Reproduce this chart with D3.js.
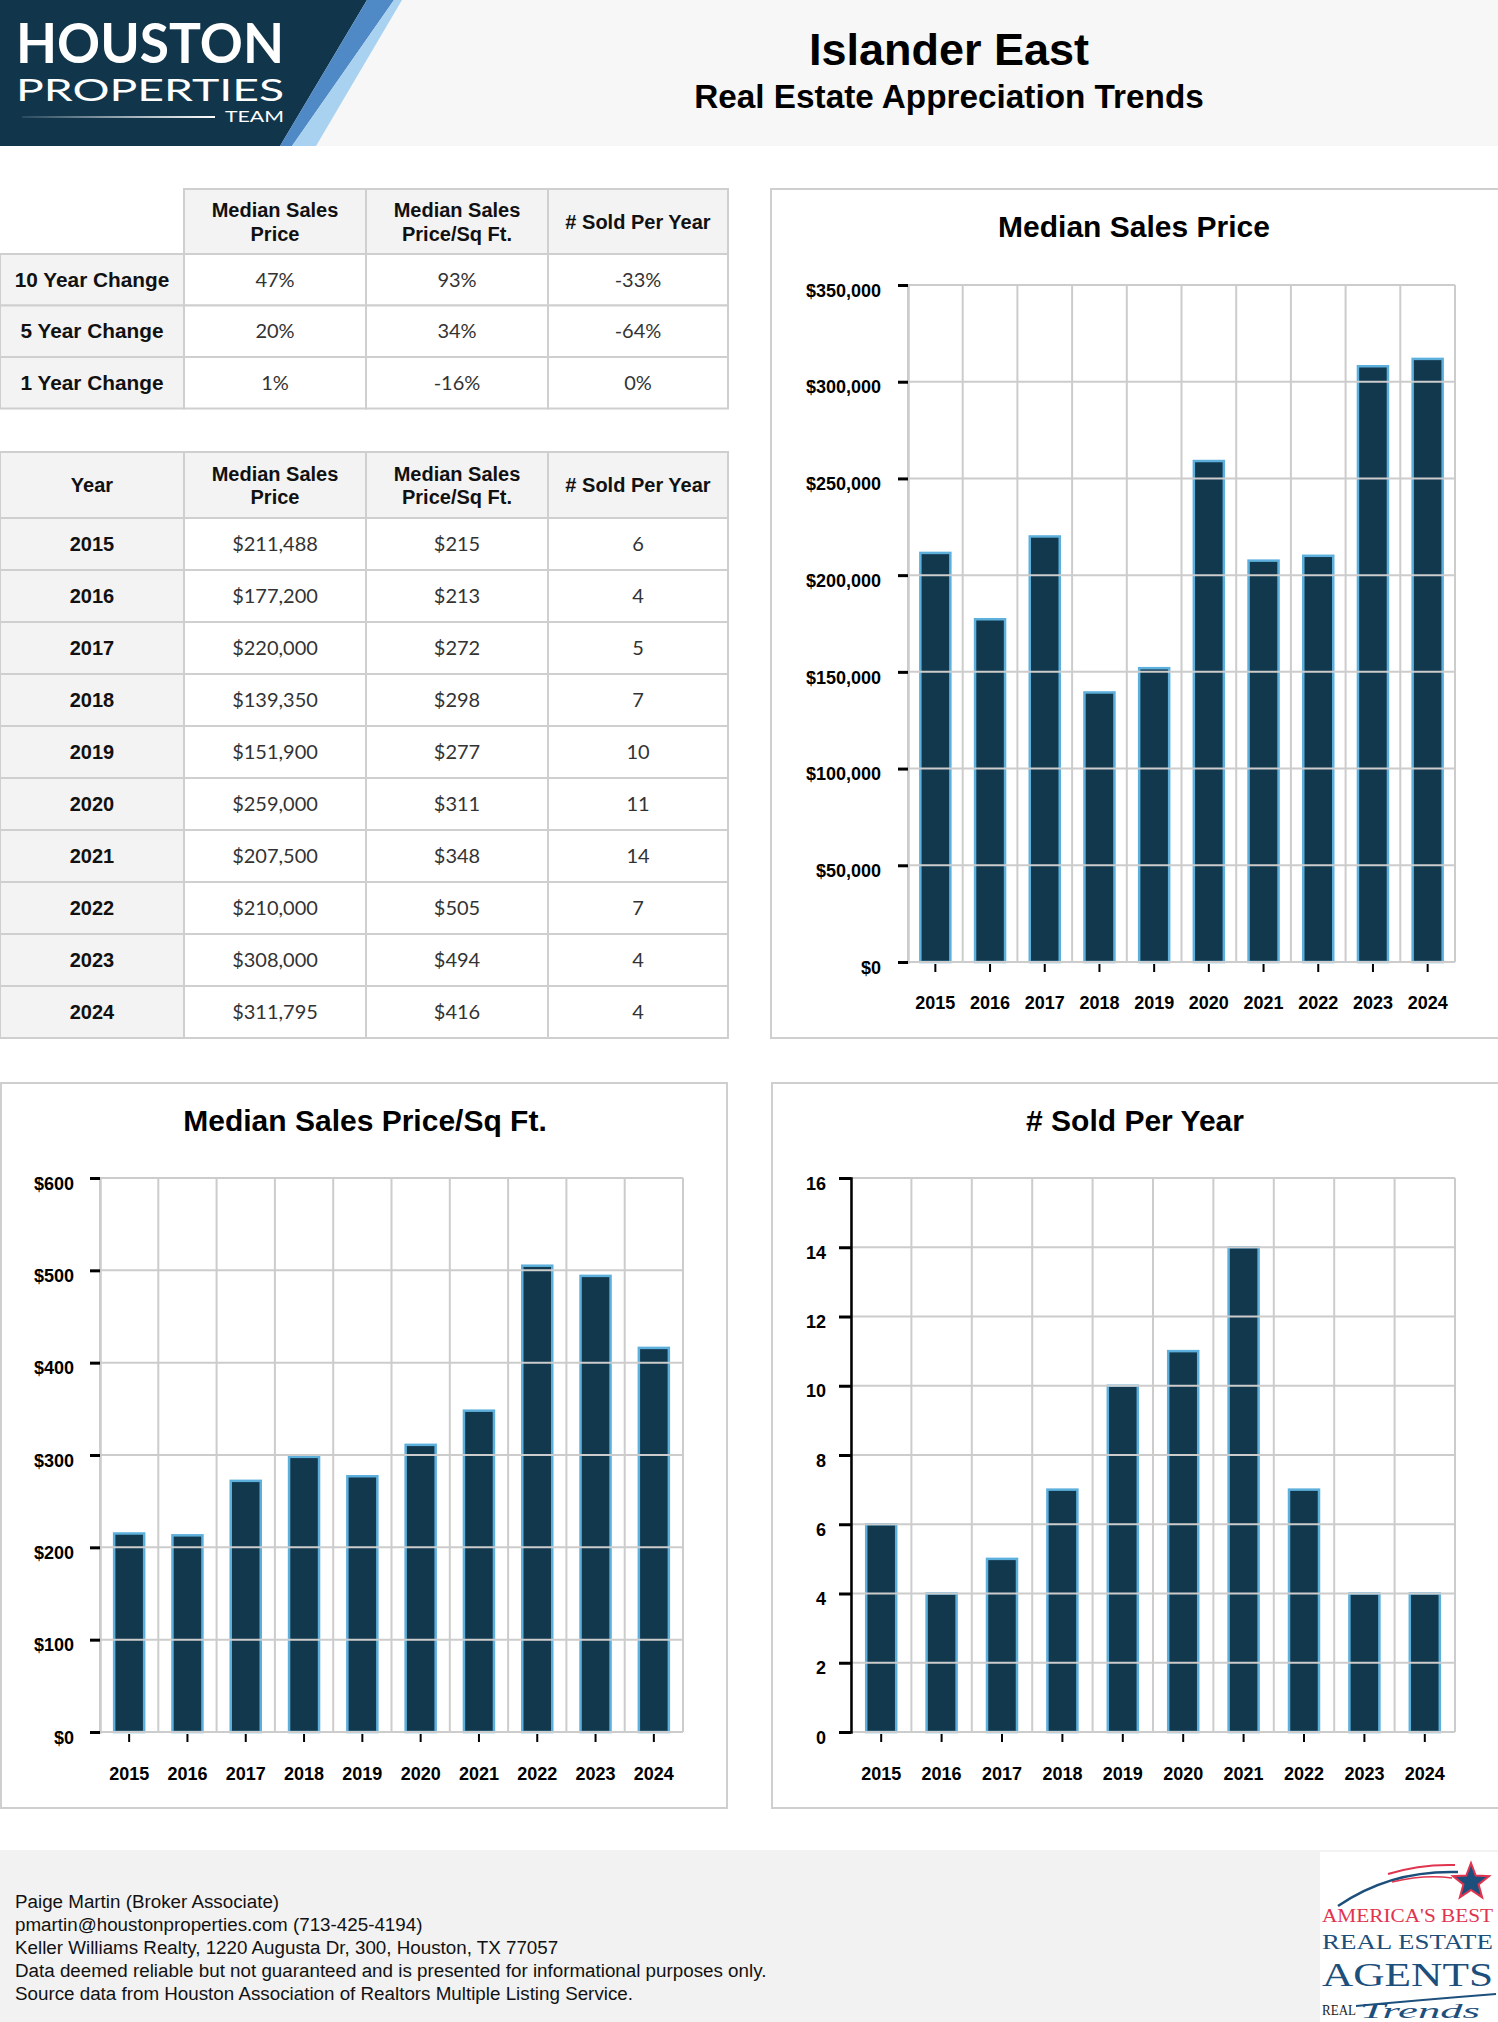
<!DOCTYPE html>
<html><head><meta charset="utf-8">
<script src="https://cdn.jsdelivr.net/npm/d3@7"></script>
<style>body{margin:0;background:#fff;} svg{display:block;}</style>
</head><body><div id="c"></div>
<script>
// ---------- DATA ----------
const years = [2015, 2016, 2017, 2018, 2019, 2020, 2021, 2022, 2023, 2024];
const medianPrice = [211488, 177200, 220000, 139350, 151900, 259000, 207500, 210000, 308000, 311795];
const pricePerSqft = [215, 213, 272, 298, 277, 311, 348, 505, 494, 416];
const soldPerYear = [6, 4, 5, 7, 10, 11, 14, 7, 4, 4];

const changeLabels = ["10 Year Change", "5 Year Change", "1 Year Change"];
const changePrice = ["47%", "20%", "1%"];
const changePpsf = ["93%", "34%", "-16%"];
const changeSold = ["-33%", "-64%", "0%"];

const metricHeaders = [["Median Sales", "Price"], ["Median Sales", "Price/Sq Ft."], ["# Sold Per Year"]];

const priceTicks = [0, 50000, 100000, 150000, 200000, 250000, 300000, 350000];
const ppsfTicks = [0, 100, 200, 300, 400, 500, 600];
const soldTicks = [0, 2, 4, 6, 8, 10, 12, 14, 16];

const pageTitle = "Islander East";
const pageSubtitle = "Real Estate Appreciation Trends";
const footerLines = [
  "Paige Martin (Broker Associate)",
  "pmartin@houstonproperties.com (713-425-4194)",
  "Keller Williams Realty, 1220 Augusta Dr, 300, Houston, TX 77057",
  "Data deemed reliable but not guaranteed and is presented for informational purposes only.",
  "Source data from Houston Association of Realtors Multiple Listing Service."
];

// ---------- SETUP ----------
const W = 1498, H = 2022;
const SANS = "'Liberation Sans', Arial, Helvetica, sans-serif";
const svg = d3.select("#c").append("svg").attr("width", W).attr("height", H);
svg.append("rect").attr("width", W).attr("height", H).attr("fill", "#fff");

// ---------- HEADER ----------
svg.append("rect").attr("x", 0).attr("y", 0).attr("width", W).attr("height", 146).attr("fill", "#f7f7f7");
const logo = svg.append("g");
logo.append("polygon").attr("points", "0,0 367,0 280,146 0,146").attr("fill", "#11364c");
logo.append("polygon").attr("points", "367,0 394,0 292,146 280,146").attr("fill", "#4f89c6");
logo.append("polygon").attr("points", "394,0 402,0 316,146 292,146").attr("fill", "#a9d2f1");
const defs = svg.append("defs");
const lg = defs.append("linearGradient").attr("id", "lineFade").attr("x1", "0").attr("x2", "1");
lg.append("stop").attr("offset", "0").attr("stop-color", "#fff").attr("stop-opacity", 0.1);
lg.append("stop").attr("offset", "1").attr("stop-color", "#fff").attr("stop-opacity", 1);
logo.append("text").text("HOUSTON").attr("x", 16).attr("y", 63)
  .attr("font-family", "Lato, 'Open Sans', sans-serif").attr("font-weight", 700)
  .attr("font-size", 56).attr("fill", "#fff").attr("textLength", 268).attr("lengthAdjust", "spacingAndGlyphs");
logo.append("text").text("PROPERTIES").attr("x", 16).attr("y", 101)
  .attr("font-family", "Lato, 'Open Sans', sans-serif").attr("font-weight", 400)
  .attr("font-size", 30).attr("fill", "#fff").attr("textLength", 268).attr("lengthAdjust", "spacingAndGlyphs");
logo.append("text").text("TEAM").attr("x", 225).attr("y", 122)
  .attr("font-family", "Lato, 'Open Sans', sans-serif").attr("font-weight", 400)
  .attr("font-size", 15).attr("fill", "#fff").attr("textLength", 59).attr("lengthAdjust", "spacingAndGlyphs");
logo.append("rect").attr("x", 22).attr("y", 116).attr("width", 193).attr("height", 2).attr("fill", "url(#lineFade)");

svg.append("text").text(pageTitle).attr("x", 949).attr("y", 65).attr("text-anchor", "middle")
  .attr("font-family", SANS).attr("font-weight", 700).attr("font-size", 45).attr("fill", "#000");
svg.append("text").text(pageSubtitle).attr("x", 949).attr("y", 108).attr("text-anchor", "middle")
  .attr("font-family", SANS).attr("font-weight", 700).attr("font-size", 33.3).attr("fill", "#000");

// ---------- TABLES ----------
const GRAY = "#f3f3f3", BORDER = "#cfcfcf";
const colX = [0, 184, 366, 548, 728];

function cell(g, x0, x1, y0, y1, fill) {
  g.append("rect").attr("x", x0).attr("y", y0).attr("width", x1 - x0).attr("height", y1 - y0)
    .attr("fill", fill).attr("stroke", BORDER).attr("stroke-width", 2);
}
function cellText(g, x0, x1, y0, y1, lines, bold, size) {
  const cx = (x0 + x1) / 2, mid = (y0 + y1) / 2;
  const t = g.append("text").attr("text-anchor", "middle")
    .attr("font-family", bold ? SANS : "Lato, 'Liberation Sans', sans-serif")
    .attr("font-weight", bold ? 700 : 400).attr("font-size", size || 20)
    .attr("fill", bold ? "#111" : "#333");
  if (lines.length === 1) {
    t.append("tspan").attr("x", cx).attr("y", mid + 7).text(lines[0]);
  } else {
    t.append("tspan").attr("x", cx).attr("y", mid - 4.5).text(lines[0]);
    t.append("tspan").attr("x", cx).attr("y", mid + 19).text(lines[1]);
  }
}

// Table 1: change summary
const t1 = svg.append("g");
const rows1 = [189, 254].concat(changeLabels.map((d, i) => 254 + 51.5 * (i + 1)));
metricHeaders.forEach((h, j) => {
  cell(t1, colX[j + 1], colX[j + 2], rows1[0], rows1[1], GRAY);
  cellText(t1, colX[j + 1], colX[j + 2], rows1[0], rows1[1], h, true);
});
changeLabels.forEach((lab, i) => {
  const y0 = rows1[i + 1], y1 = rows1[i + 2];
  cell(t1, colX[0], colX[1], y0, y1, GRAY);
  cellText(t1, colX[0], colX[1], y0, y1, [lab], true, 20.8);
  [changePrice[i], changePpsf[i], changeSold[i]].forEach((v, j) => {
    cell(t1, colX[j + 1], colX[j + 2], y0, y1, "#fff");
    cellText(t1, colX[j + 1], colX[j + 2], y0, y1, [v], false);
  });
});

// Table 2: yearly
const t2 = svg.append("g");
const rows2 = [452, 518].concat(years.map((d, i) => 518 + 52 * (i + 1)));
cell(t2, colX[0], colX[1], rows2[0], rows2[1], GRAY);
cellText(t2, colX[0], colX[1], rows2[0], rows2[1], ["Year"], true);
metricHeaders.forEach((h, j) => {
  cell(t2, colX[j + 1], colX[j + 2], rows2[0], rows2[1], GRAY);
  cellText(t2, colX[j + 1], colX[j + 2], rows2[0], rows2[1], h, true);
});
const fmtMoney = d3.format("$,");
years.forEach((yr, i) => {
  const y0 = rows2[i + 1], y1 = rows2[i + 2];
  cell(t2, colX[0], colX[1], y0, y1, GRAY);
  cellText(t2, colX[0], colX[1], y0, y1, [String(yr)], true);
  [fmtMoney(medianPrice[i]), fmtMoney(pricePerSqft[i]), String(soldPerYear[i])].forEach((v, j) => {
    cell(t2, colX[j + 1], colX[j + 2], y0, y1, "#fff");
    cellText(t2, colX[j + 1], colX[j + 2], y0, y1, [v], false);
  });
});

// ---------- CHARTS ----------
function barChart(o) {
  const g = svg.append("g");
  g.append("rect").attr("x", o.px).attr("y", o.py).attr("width", o.pw).attr("height", o.ph)
    .attr("fill", "#fff").attr("stroke", BORDER).attr("stroke-width", 2);
  g.append("text").text(o.title).attr("x", o.titleX).attr("y", o.titleY).attr("text-anchor", "middle")
    .attr("font-family", SANS).attr("font-weight", 700).attr("font-size", 30).attr("fill", "#000");

  const step = (o.x1 - o.x0) / years.length;
  const p = 1 - o.barW / step;
  const x = d3.scaleBand().domain(years).range([o.x0, o.x1]).paddingInner(p).paddingOuter(p / 2);
  const y = d3.scaleLinear().domain([0, o.yMax]).range([o.y1, o.y0]);

  // vertical grid at band boundaries
  const bounds = years.map(yr => x(yr) - (x.step() - x.bandwidth()) / 2).concat([o.x1]);
  g.append("g").selectAll("line").data(bounds).join("line")
    .attr("x1", d => d).attr("x2", d => d).attr("y1", o.y0).attr("y2", o.y1)
    .attr("stroke", "#cccccc").attr("stroke-width", 2);

  // bars
  g.append("g").selectAll("rect").data(o.values).join("rect")
    .attr("x", (d, i) => x(years[i])).attr("width", x.bandwidth())
    .attr("y", d => y(d)).attr("height", d => o.y1 - y(d))
    .attr("fill", "#12384e").attr("stroke", "#5eb0dc").attr("stroke-width", 2.5);

  // horizontal grid (drawn over bars)
  g.append("g").selectAll("line").data(o.ticks).join("line")
    .attr("x1", o.x0).attr("x2", o.x1).attr("y1", d => y(d)).attr("y2", d => y(d))
    .attr("stroke", "#cccccc").attr("stroke-width", 2);

  // y axis
  const ya = g.append("g").attr("transform", `translate(${o.x0},0)`)
    .call(d3.axisLeft(y).tickValues(o.ticks).tickFormat(o.fmt).tickSize(o.tickLen).tickPadding(o.labelGap));
  ya.select(".domain").attr("stroke", o.axisColor).attr("stroke-width", 2.5);
  ya.selectAll(".tick line").attr("stroke", "#000").attr("stroke-width", 3);
  ya.selectAll(".tick text").attr("font-family", SANS).attr("font-weight", 700)
    .attr("font-size", 18).attr("fill", "#000").attr("dy", "0.62em");

  // x axis
  const xa = g.append("g").attr("transform", `translate(0,${o.y1 + 2})`)
    .call(d3.axisBottom(x).tickSize(8).tickSizeOuter(0));
  xa.select(".domain").remove();
  xa.selectAll(".tick line").attr("stroke", "#000").attr("stroke-width", 2);
  xa.selectAll(".tick text").attr("font-family", SANS).attr("font-weight", 700)
    .attr("font-size", 18).attr("fill", "#000").attr("dy", null).attr("y", o.yearBase - o.y1 - 2);
}

barChart({
  px: 771, py: 189, pw: 800, ph: 849, title: "Median Sales Price", titleX: 1134, titleY: 237,
  x0: 908, x1: 1455, y0: 285, y1: 962, barW: 30, values: medianPrice, ticks: priceTicks, yMax: 350000,
  fmt: d3.format("$,"), tickLen: 10, labelGap: 17, axisColor: "#cccccc", yearBase: 1009
});
barChart({
  px: 1, py: 1083, pw: 726, ph: 725, title: "Median Sales Price/Sq Ft.", titleX: 365, titleY: 1131,
  x0: 100, x1: 683, y0: 1178, y1: 1732, barW: 30, values: pricePerSqft, ticks: ppsfTicks, yMax: 600,
  fmt: d3.format("$,"), tickLen: 10, labelGap: 16, axisColor: "#cccccc", yearBase: 1780
});
barChart({
  px: 772, py: 1083, pw: 800, ph: 725, title: "# Sold Per Year", titleX: 1135, titleY: 1131,
  x0: 851, x1: 1455, y0: 1178, y1: 1732, barW: 30, values: soldPerYear, ticks: soldTicks, yMax: 16,
  fmt: d3.format("d"), tickLen: 12, labelGap: 13, axisColor: "#000", yearBase: 1780
});

// ---------- FOOTER ----------
svg.append("rect").attr("x", 0).attr("y", 1850).attr("width", W).attr("height", H - 1850).attr("fill", "#f2f2f2");
footerLines.forEach((l, i) => svg.append("text").attr("x", 15).attr("y", 1908 + i * 23).text(l)
  .attr("font-family", SANS).attr("font-size", 18.8).attr("fill", "#111"));

// footer badge
const b = svg.append("g");
b.append("rect").attr("x", 1320).attr("y", 1852).attr("width", 178).attr("height", 170).attr("fill", "#fff");
b.append("path").attr("d", "M1338,1906 Q1390,1870 1458,1872").attr("fill", "none").attr("stroke", "#1d4f7c").attr("stroke-width", 2.5);
b.append("path").attr("d", "M1388,1874 Q1420,1864 1455,1865").attr("fill", "none").attr("stroke", "#e0344f").attr("stroke-width", 2);
b.append("path").attr("d", "M1392,1882 Q1425,1874 1452,1878").attr("fill", "none").attr("stroke", "#e0344f").attr("stroke-width", 1.5);
const star = d3.range(10).map(i => {
  const a = -Math.PI / 2 + i * Math.PI / 5, r = i % 2 ? 8 : 19;
  return [1471 + r * Math.cos(a), 1882 + r * Math.sin(a)];
});
b.append("polygon").attr("points", star.map(d => d.join(",")).join(" "))
  .attr("fill", "#1d4f7c").attr("stroke", "#e0344f").attr("stroke-width", 2);
const SERIF = "'Liberation Serif', 'DejaVu Serif', serif";
b.append("text").text("AMERICA'S BEST").attr("x", 1322).attr("y", 1922).attr("font-family", SERIF)
  .attr("font-size", 18).attr("fill", "#e0344f").attr("textLength", 171).attr("lengthAdjust", "spacingAndGlyphs");
b.append("text").text("REAL ESTATE").attr("x", 1322).attr("y", 1949).attr("font-family", SERIF)
  .attr("font-size", 22).attr("fill", "#1d4f7c").attr("textLength", 171).attr("lengthAdjust", "spacingAndGlyphs");
b.append("text").text("AGENTS").attr("x", 1322).attr("y", 1986).attr("font-family", SERIF).attr("font-size", 34)
  .attr("fill", "#1d4f7c").attr("textLength", 171).attr("lengthAdjust", "spacingAndGlyphs");
b.append("text").text("REAL").attr("x", 1322).attr("y", 2015).attr("font-family", SERIF).attr("font-size", 15)
  .attr("fill", "#222").attr("textLength", 34).attr("lengthAdjust", "spacingAndGlyphs");
b.append("text").text("Trends").attr("x", 1360).attr("y", 2018).attr("font-family", SERIF).attr("font-style", "italic")
  .attr("font-size", 22).attr("fill", "#1d4f7c").attr("textLength", 120).attr("lengthAdjust", "spacingAndGlyphs");
b.append("path").attr("d", "M1356,2006 Q1420,2000 1496,1994").attr("fill", "none").attr("stroke", "#1d4f7c").attr("stroke-width", 2);
</script>
</body></html>
